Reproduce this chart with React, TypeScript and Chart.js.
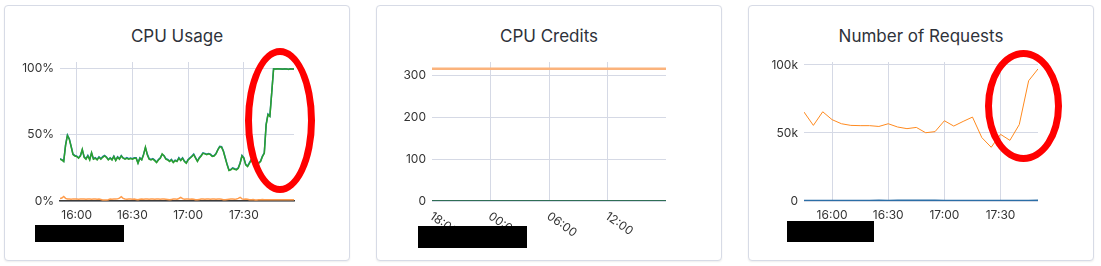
import React, { useEffect, useRef } from 'react';
import { Chart, registerables } from 'chart.js';

Chart.register(...registerables);

const FONT = 'Inter, "Noto Sans", sans-serif';
const GRID = '#d5d9e5';
const TICK = '#333333';

// ---------- Card 1: CPU Usage (1-minute samples starting 15:51) ----------
const cpuStartTime = '15:51';
const cpuUsageGreen = [
  31.6, 31.0, 29.8, 42.0, 49.5, 46.7, 41.0, 35.0, 34.0, 33.6,
  32.3, 34.0, 39.0, 33.0, 31.6, 34.0, 31.0, 36.6, 31.6, 32.3,
  31.0, 33.0, 31.6, 33.0, 34.0, 33.0, 31.0, 32.3, 31.0, 33.6,
  30.5, 33.0, 31.6, 34.0, 32.3, 31.6, 32.3, 31.6, 32.0, 31.6,
  32.3, 32.3, 28.5, 32.3, 31.0, 35.0, 40.7, 35.0, 31.6, 31.0,
  31.6, 30.5, 29.0, 31.0, 32.3, 35.6, 34.0, 31.6, 31.0, 29.8,
  31.0, 29.0, 30.5, 29.8, 32.3, 30.5, 32.3, 29.8, 28.5, 31.0,
  32.3, 33.6, 35.0, 32.3, 29.8, 32.3, 34.0, 36.0, 35.6, 35.0,
  35.6, 35.0, 33.6, 34.0, 35.6, 38.6, 41.0, 40.7, 37.4, 32.3,
  27.3, 23.0, 23.5, 24.7, 24.0, 23.5, 24.7, 28.5, 34.0, 32.3,
  27.3, 26.0, 28.5, 31.0, 28.5, 26.0, 26.5, 28.5, 29.8, 33.6,
  36.0, 57.6, 65.2, 63.9, 81.6, 99.8, 99.8, 99.9, 99.8, 99.8,
  99.7, 99.8, 99.8, 99.6, 99.8, 99.8, 99.7,
];
const cpuUsageBlue = [
  31.9, 31.3, 30.1, 42.4, 49.8, 47.1, 41.5, 35.4, 34.4, 33.9,
  32.7, 34.3, 38.6, 33.4, 32.0, 34.4, 31.5, 36.2, 32.0, 32.8,
  31.5, 33.4, 32.0, 33.5, 34.4, 33.3, 31.4, 32.7, 31.4, 33.9,
  30.9, 33.4, 32.0, 34.4, 32.6, 32.0, 32.7, 32.0, 32.4, 32.0,
  32.6, 32.7, 28.9, 32.6, 31.4, 35.4, 40.3, 35.4, 32.0, 31.4,
  32.0, 30.9, 29.4, 31.4, 32.7, 35.2, 34.4, 32.0, 31.4, 30.2,
  31.4, 29.4, 30.9, 30.2, 32.7, 30.9, 32.6, 30.2, 28.9, 31.4,
  32.7, 33.9, 35.4, 32.7, 30.2, 32.7, 34.4, 36.4, 35.9, 35.4,
  35.9, 35.4, 33.9, 34.4, 35.9, 38.9, 41.3, 41.0, 37.8, 32.7,
  27.7, 23.4, 23.9, 25.1, 24.4, 23.9, 25.1, 28.9, 34.4, 32.7,
  27.7, 26.4, 28.9, 31.4, 28.9, 26.4, 26.9, 28.9, 30.2, 33.9,
  36.4, 57.9, 65.6, 64.2, 81.9, 99.9, 99.7, 99.9, 99.9, 99.8,
  99.6, 99.9, 99.8, 99.4, 99.9, 99.8, 99.8,
];
const cpuUsageOrange = [
  1.8, 2.2, 3.4, 2.0, 1.5, 1.5, 1.4, 1.6, 1.5, 1.5,
  1.4, 1.5, 1.6, 1.5, 1.4, 1.5, 1.5, 1.4, 1.5, 1.5,
  1.4, 1.5, 1.2, 0.8, 0.7, 0.8, 1.0, 1.5, 1.4, 1.5,
  1.5, 1.6, 2.2, 3.2, 2.0, 1.5, 1.4, 1.5, 1.5, 1.4,
  1.5, 1.2, 0.9, 1.3, 1.5, 1.4, 1.5, 1.5, 1.4, 1.5,
  1.5, 1.4, 1.5, 1.5, 1.4, 1.5, 1.5, 1.4, 1.2, 0.9,
  1.2, 1.5, 1.5, 1.4, 1.9, 2.8, 1.8, 1.4, 1.5, 1.5,
  1.4, 1.5, 1.3, 1.0, 0.9, 1.2, 1.5, 1.5, 1.4, 1.5,
  1.5, 1.4, 1.5, 1.5, 1.4, 1.5, 1.5, 1.3, 1.0, 1.0,
  1.2, 1.4, 1.5, 1.5, 1.4, 1.5, 2.0, 2.8, 1.6, 1.4,
  1.5, 1.3, 1.0, 1.0, 1.2, 0.8, 0.8, 0.9, 1.0, 1.2,
  1.0, 0.9, 0.9, 1.0, 1.0, 0.9, 0.9, 1.0, 1.0, 0.9,
  0.9, 1.0, 1.0, 0.9, 0.9, 1.0, 1.0,
];
const cpuXRange = ['15:51', '17:57'];
const cpuXTickTimes = ['16:00', '16:30', '17:00', '17:30'];
const cpuYTicks = [0, 50, 100];
const cpuYMax = 105;

// ---------- Card 2: CPU Credits (hourly, 18:00 -> 18:00 next day, hours) ----------
const creditHours = [18, 19, 20, 21, 22, 23, 24, 25, 26, 27, 28, 29, 30, 31, 32, 33, 34, 35, 36, 37, 38, 39, 40, 41, 42];
const creditBalance = [317, 317, 317, 317, 317, 317, 317, 317, 317, 317, 317, 317, 317, 317, 317, 317, 317, 317, 317, 317, 317, 317, 317, 317, 317];
const creditUsage = [0, 0, 0, 0, 0, 0, 0, 0, 0, 0, 0, 0, 0, 0, 0, 0, 0, 0, 0, 0, 0, 0, 0, 0, 0];
const creditXRange = [18, 42];
const creditGridHours = [24, 30, 36];
const creditLabelHours = [18, 24, 30, 36];
const creditLabelTexts = ['18:00', '00:00', '06:00', '12:00'];
const creditYTicks = [0, 100, 200, 300];
const creditYMax = 333;

// ---------- Card 3: Number of Requests (5-minute samples) ----------
const reqTimes = [
  '15:45', '15:50', '15:55', '16:00', '16:05', '16:10', '16:15', '16:20', '16:25', '16:30',
  '16:35', '16:40', '16:45', '16:50', '16:55', '17:00', '17:05', '17:10', '17:15', '17:20',
  '17:25', '17:30', '17:35', '17:40', '17:45', '17:50',
];
const reqTotal = [
  65400, 55600, 65600, 59800, 56800, 55600, 55400, 55400, 54800, 56800,
  54400, 53200, 54100, 50200, 51000, 59000, 55100, 58500, 61700, 46600,
  39500, 49000, 44600, 56200, 88400, 97100,
];
const reqErrors = [
  150, 120, 100, 120, 150, 150, 200, 250, 300, 250,
  300, 350, 400, 350, 300, 250, 200, 200, 150, 150,
  120, 120, 150, 200, 250, 300,
];
const reqXRange = ['15:45', '17:50'];
const reqXTickTimes = ['16:00', '16:30', '17:00', '17:30'];
const reqYTicks = [0, 50000, 100000];
const reqYTickLabels = ['0', '50k', '100k'];
const reqYMax = 102200;

// ---------- helpers ----------
const toMin = (s: string) => {
  const [h, m] = s.split(':').map(Number);
  return h * 60 + m;
};
const fmtMin = (v: number) => {
  const h = Math.floor(v / 60) % 24;
  const m = Math.round(v % 60);
  return `${String(h).padStart(2, '0')}:${String(m).padStart(2, '0')}`;
};
const cpuX = cpuUsageGreen.map((_, i) => toMin(cpuStartTime) + i);

const CW = 344;
const CH = 254;

function baseOptions(opts: {
  xMin: number; xMax: number; xTicks: number[]; xLabel: (v: number) => string; showX: boolean; xBorder: boolean;
  yMax: number; yTicks: number[]; yLabel: (v: number, i: number) => string;
}) {
  return {
    responsive: false,
    animation: false,
    events: [],
    layout: { padding: { left: 0, right: 55, top: 56, bottom: 0 } },
    plugins: { legend: { display: false }, tooltip: { enabled: false }, title: { display: false } },
    elements: { point: { radius: 0 }, line: { tension: 0 } },
    scales: {
      x: {
        type: 'linear',
        min: opts.xMin,
        max: opts.xMax,
        afterBuildTicks: (s: any) => { s.ticks = opts.xTicks.map((v) => ({ value: v })); },
        afterFit: (s: any) => { s.height = 59; },
        grid: { color: GRID, drawTicks: false, lineWidth: 1 },
        border: { display: opts.xBorder, color: '#3a3a3a', width: 1.5 },
        ticks: {
          display: opts.showX,
          padding: 7,
          maxRotation: 0,
          autoSkip: false,
          color: TICK,
          font: { family: FONT, size: 12 },
          callback: (v: number) => opts.xLabel(v),
        },
      },
      y: {
        type: 'linear',
        min: 0,
        max: opts.yMax,
        afterBuildTicks: (s: any) => { s.ticks = opts.yTicks.map((v) => ({ value: v })); },
        afterFit: (s: any) => { s.width = 55; },
        grid: { color: GRID, drawTicks: false, lineWidth: 1 },
        border: { display: false },
        ticks: {
          padding: 6,
          color: TICK,
          font: { family: FONT, size: 12 },
          callback: (v: number, i: number) => opts.yLabel(v, i),
        },
      },
    },
  };
}

const rotatedCreditLabels = {
  id: 'rotatedCreditLabels',
  afterDraw(chart: any) {
    const xs = chart.scales.x;
    const ctx = chart.ctx;
    ctx.save();
    ctx.font = `12px ${FONT}`;
    ctx.fillStyle = TICK;
    ctx.textAlign = 'left';
    ctx.textBaseline = 'middle';
    creditLabelHours.forEach((h, i) => {
      const px = xs.getPixelForValue(h);
      ctx.save();
      ctx.translate(px - 1, chart.chartArea.bottom + 14);
      ctx.rotate((35 * Math.PI) / 180);
      ctx.fillText(creditLabelTexts[i], 0, 0);
      ctx.restore();
    });
    ctx.restore();
  },
};

function buildCpu() {
  return {
    type: 'line',
    data: {
      datasets: [
        { data: cpuX.map((x, i) => ({ x, y: cpuUsageGreen[i] })), borderColor: '#2ca02c', borderWidth: 1.5 },
        { data: cpuX.map((x, i) => ({ x, y: cpuUsageBlue[i] })), borderColor: '#1f77b4', borderWidth: 1.5 },
        { data: cpuX.map((x, i) => ({ x, y: cpuUsageOrange[i] })), borderColor: '#ff9d4d', borderWidth: 1.5 },
      ],
    },
    options: baseOptions({
      xMin: toMin(cpuXRange[0]), xMax: toMin(cpuXRange[1]),
      xTicks: cpuXTickTimes.map(toMin), xLabel: fmtMin, showX: true, xBorder: true,
      yMax: cpuYMax, yTicks: cpuYTicks, yLabel: (v) => `${v}%`,
    }),
  };
}

function buildCredits() {
  return {
    type: 'line',
    data: {
      datasets: [
        { data: creditHours.map((x, i) => ({ x, y: creditUsage[i] })), borderColor: '#2f6e55', borderWidth: 2 },
        { data: creditHours.map((x, i) => ({ x, y: creditBalance[i] })), borderColor: '#fbb37c', borderWidth: 2.5 },
      ],
    },
    options: baseOptions({
      xMin: creditXRange[0], xMax: creditXRange[1],
      xTicks: creditGridHours, xLabel: () => '', showX: false, xBorder: false,
      yMax: creditYMax, yTicks: creditYTicks, yLabel: (v) => String(v),
    }),
    plugins: [rotatedCreditLabels],
  };
}

function buildRequests() {
  return {
    type: 'line',
    data: {
      datasets: [
        { data: reqTimes.map((t, i) => ({ x: toMin(t), y: reqErrors[i] })), borderColor: '#2b6ea6', borderWidth: 2 },
        { data: reqTimes.map((t, i) => ({ x: toMin(t), y: reqTotal[i] })), borderColor: '#ff8a1f', borderWidth: 1 },
      ],
    },
    options: baseOptions({
      xMin: toMin(reqXRange[0]), xMax: toMin(reqXRange[1]),
      xTicks: reqXTickTimes.map(toMin), xLabel: fmtMin, showX: true, xBorder: false,
      yMax: reqYMax, yTicks: reqYTicks, yLabel: (v, i) => reqYTickLabels[i],
    }),
  };
}

function ChartCanvas({ build }: { build: () => any }) {
  const ref = useRef<HTMLCanvasElement>(null);
  useEffect(() => {
    const chart = new Chart(ref.current as HTMLCanvasElement, build());
    return () => chart.destroy();
  }, []);
  return (
    <canvas
      ref={ref}
      width={CW}
      height={CH}
      style={{ position: 'absolute', left: 0, top: 0, width: CW, height: CH }}
    />
  );
}

function Card({ left, title, build }: { left: number; title: string; build: () => any }) {
  return (
    <div
      style={{
        position: 'absolute',
        left,
        top: 5,
        width: CW,
        height: CH,
        border: '1px solid #d7dbe6',
        borderRadius: 4,
        boxShadow: '0 1px 2px rgba(0,0,0,0.07)',
        background: '#fff',
      }}
    >
      <div
        style={{
          position: 'absolute',
          left: 0,
          right: 0,
          top: 20,
          textAlign: 'center',
          fontFamily: FONT,
          fontSize: 17,
          lineHeight: '20px',
          color: '#2e323a',
        }}
      >
        {title}
      </div>
      <ChartCanvas build={build} />
    </div>
  );
}

const box = (l: number, t: number, w: number, h: number) => ({
  position: 'absolute' as const, left: l, top: t, width: w, height: h,
});

export default function App() {
  return (
    <div style={{ position: 'fixed', left: 0, top: 0, width: 1101, height: 266, background: '#fff', overflow: 'hidden' }}>
      <Card left={4} title="CPU Usage" build={buildCpu} />
      <Card left={376} title="CPU Credits" build={buildCredits} />
      <Card left={748} title="Number of Requests" build={buildRequests} />
      {/* redaction blocks */}
      <div style={{ ...box(35, 225, 89, 17), background: '#000' }} />
      <div style={{ ...box(418, 226, 109, 22), background: '#000' }} />
      <div style={{ ...box(787, 221, 87, 21), background: '#000' }} />
      {/* red annotation ellipses */}
      <div style={{ ...box(245, 48, 70, 145), border: '7px solid #ff0000', borderRadius: '50%', boxSizing: 'border-box' }} />
      <div style={{ ...box(985, 50, 77, 112), border: '7px solid #ff0000', borderRadius: '50%', boxSizing: 'border-box' }} />
    </div>
  );
}
